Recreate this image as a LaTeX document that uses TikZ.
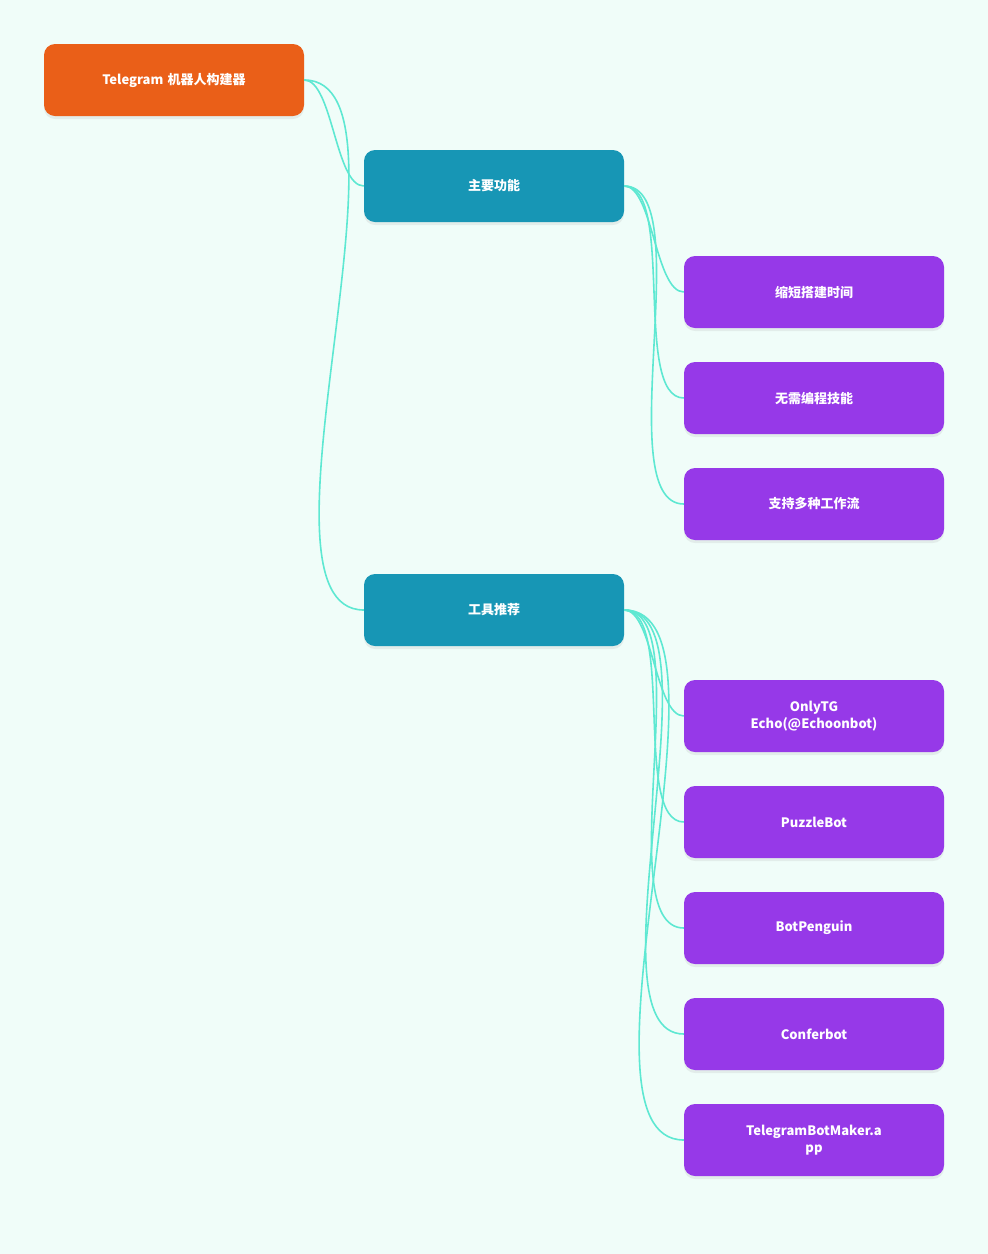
\documentclass[tikz,border=0pt]{standalone}
\usepackage{fontspec}
\newfontfamily\cjk{Noto Sans CJK SC}
\usetikzlibrary{shadows}
\definecolor{bg}{HTML}{F0FDF9}
\definecolor{rootc}{HTML}{EA5F18}
\definecolor{midc}{HTML}{1796B5}
\definecolor{leafc}{HTML}{9639E8}
\definecolor{linkc}{HTML}{5EE8D2}
\begin{document}
\begin{tikzpicture}[x=1pt,y=-1pt,
  box/.style={rounded corners=11pt,minimum width=260pt,minimum height=72pt,text width=240pt,align=center,text=white,font=\cjk\bfseries\fontsize{13}{17}\selectfont,inner sep=0pt,drop shadow={shadow xshift=0pt,shadow yshift=-3pt,opacity=0.12}},
  rootb/.style={box,fill=rootc},
  midb/.style={box,fill=midc},
  leafb/.style={box,fill=leafc},
  link/.style={draw=linkc,line width=1.6pt,out=0,in=180,looseness=0.6}]
\fill[bg] (0,0) rectangle (988,1254);
\useasboundingbox (0,0) rectangle (988,1254);
\node[rootb] (r) at (174,80) {Telegram 机器人构建器};
\node[midb] (m1) at (494,186) {主要功能};
\node[midb] (m2) at (494,610) {工具推荐};
\node[leafb] (l1) at (814,292) {缩短搭建时间};
\node[leafb] (l2) at (814,398) {无需编程技能};
\node[leafb] (l3) at (814,504) {支持多种工作流};
\node[leafb] (t1) at (814,716) {OnlyTG\\Echo(@Echoonbot)};
\node[leafb] (t2) at (814,822) {PuzzleBot};
\node[leafb] (t3) at (814,928) {BotPenguin};
\node[leafb] (t4) at (814,1034) {Conferbot};
\node[leafb] (t5) at (814,1140) {TelegramBotMaker.a\\pp};
\foreach \a/\b in {r/m1,r/m2,m1/l1,m1/l2,m1/l3,m2/t1,m2/t2,m2/t3,m2/t4,m2/t5}
  \draw[link] (\a.east) to (\b.west);
\end{tikzpicture}
\end{document}
